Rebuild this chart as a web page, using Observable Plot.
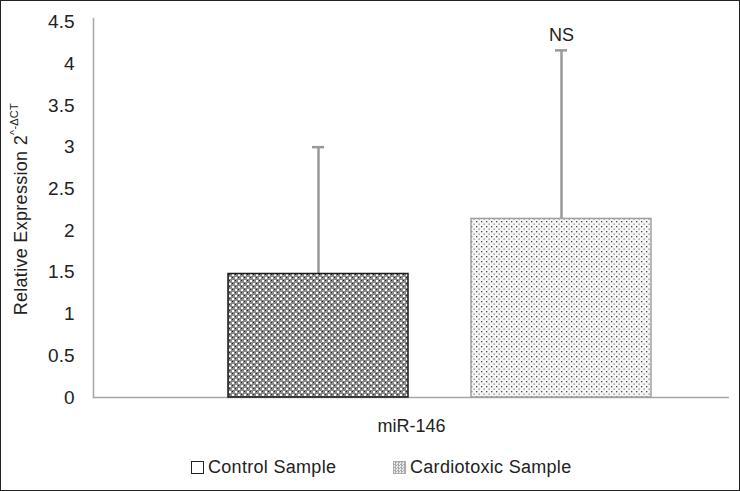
<!DOCTYPE html>
<html>
<head>
<meta charset="utf-8">
<script src="https://cdn.jsdelivr.net/npm/d3@7"></script>
<script src="https://cdn.jsdelivr.net/npm/@observablehq/plot@0.6"></script>
<style>
  html, body { margin: 0; padding: 0; background: #fff; }
  #frame { width: 740px; height: 491px; box-sizing: border-box; border: 1px solid #222; position: relative; overflow: hidden; font-family: "Liberation Sans", Arial, sans-serif; }
  #legend { position: absolute; top: 455px; left: 0; width: 738px; height: 22px; font-size: 18px; letter-spacing: 0.3px; color: #222; }
  .item { position: absolute; top: 0; display: flex; align-items: center; height: 22px; }
  .sw { width: 13px; height: 13px; box-sizing: border-box; margin-right: 4px; }
</style>
</head>
<body>
<div id="frame">
  <div id="chart"></div>
  <div id="legend"></div>
</div>
<script>
const categories = ["miR-146"];
const series = ["Control Sample", "Cardiotoxic Sample"];
const means = [1.48, 2.14];
const sds = [1.52, 2.02];
const annotations = ["", "NS"];
const yTicks = [0, 0.5, 1, 1.5, 2, 2.5, 3, 3.5, 4, 4.5];

const fills = ["url(#patControl)", "url(#patCardio)"];
const strokes = ["#1a1a1a", "#a0a0a0"];

const data = series.map((s, i) => ({
  series: s, mean: means[i], sd: sds[i], upper: means[i] + sds[i],
  note: annotations[i], fill: fills[i], stroke: strokes[i]
}));

const font = "Liberation Sans, Arial, sans-serif";

const plot = Plot.plot({
  width: 738,
  height: 441,
  marginLeft: 92,
  marginRight: 10,
  marginTop: 17,
  marginBottom: 45,
  style: { fontFamily: font, fontSize: "18px", color: "#222", background: "transparent", overflow: "visible" },
  x: { domain: series, range: [227, 650], paddingInner: 0.26, paddingOuter: 0, axis: null },
  y: { domain: [0, 4.5], range: [396, 20.5] },
  color: { type: "identity" },
  marks: [
    Plot.axisY({ ticks: yTicks, tickSize: 0, tickPadding: 19, label: null, tickFormat: d => String(d), fontSize: 19, style: "letter-spacing:0.4px" }),
    Plot.frame({ anchor: "left", stroke: "#a6a6a6", strokeWidth: 1.5 }),
    Plot.ruleY([0], { stroke: "#a6a6a6", strokeWidth: 1.5 }),
    Plot.ruleX(data, { x: "series", y1: "mean", y2: "upper", stroke: "#999", strokeWidth: 2.5 }),
    Plot.tickY(data, { x: "series", y: "upper", stroke: "#999", strokeWidth: 2.5, insetLeft: 84, insetRight: 84 }),
    Plot.barY(data, { x: "series", y: "mean", fill: "fill", stroke: "stroke", strokeWidth: 1.5 }),
    Plot.text(data, { x: "series", y: "upper", text: "note", dy: -15, fontSize: 18, fill: "#222" }),
    Plot.text(categories, { frameAnchor: "bottom", text: d => d, dy: 34, fontSize: 18, fill: "#222" })
  ]
});

// patterns
const svg = d3.select(plot);
const defs = svg.insert("defs", ":first-child");
const p1 = defs.append("pattern").attr("id", "patControl").attr("patternUnits", "userSpaceOnUse").attr("width", 6).attr("height", 6);
p1.append("rect").attr("width", 6).attr("height", 6).attr("fill", "#8a8a8a");
p1.append("rect").attr("x", 0).attr("y", 0).attr("width", 2).attr("height", 2).attr("fill", "#fff");
p1.append("rect").attr("x", 3).attr("y", 3).attr("width", 2).attr("height", 2).attr("fill", "#fff");
p1.append("rect").attr("x", 3).attr("y", 0).attr("width", 1).attr("height", 1).attr("fill", "#222");
p1.append("rect").attr("x", 0).attr("y", 3).attr("width", 1).attr("height", 1).attr("fill", "#222");

const p2 = defs.append("pattern").attr("id", "patCardio").attr("patternUnits", "userSpaceOnUse").attr("width", 5).attr("height", 5);
p2.append("rect").attr("width", 5).attr("height", 5).attr("fill", "#f6f6f6");
p2.append("rect").attr("x", 0).attr("y", 0).attr("width", 1.3).attr("height", 1.3).attr("fill", "#444");
p2.append("rect").attr("x", 2.5).attr("y", 2.5).attr("width", 1.3).attr("height", 1.3).attr("fill", "#888");

// y-axis title with superscript
const y = plot.scale("y");
const yMid = (y.apply(0) + y.apply(4.5)) / 2;
const lab = svg.append("text")
  .attr("transform", `translate(21,${yMid}) rotate(-90)`)
  .attr("text-anchor", "middle")
  .attr("dominant-baseline", "middle")
  .attr("font-family", font)
  .attr("font-size", 18)
  .attr("letter-spacing", "0.3px")
  .attr("fill", "#222");
lab.append("tspan").text("Relative Expression 2");
lab.append("tspan").attr("font-size", 11).attr("dy", -7).attr("letter-spacing", "0.2px").text("^-ΔCT");

document.getElementById("chart").appendChild(plot);

// legend
const legend = d3.select("#legend");
const lx = [190, 392];
series.forEach((s, i) => {
  const it = legend.append("div").attr("class", "item").style("left", lx[i] + "px");
  const sw = it.append("div").attr("class", "sw");
  if (i === 0) sw.style("background", "#fff").style("border", "1.5px solid #222");
  else sw.style("background", "repeating-conic-gradient(#aaa 0 25%, #eee 0 50%) 0 0/3px 3px").style("border", "1px solid #aaa");
  it.append("span").text(s);
});
</script>
</body>
</html>
